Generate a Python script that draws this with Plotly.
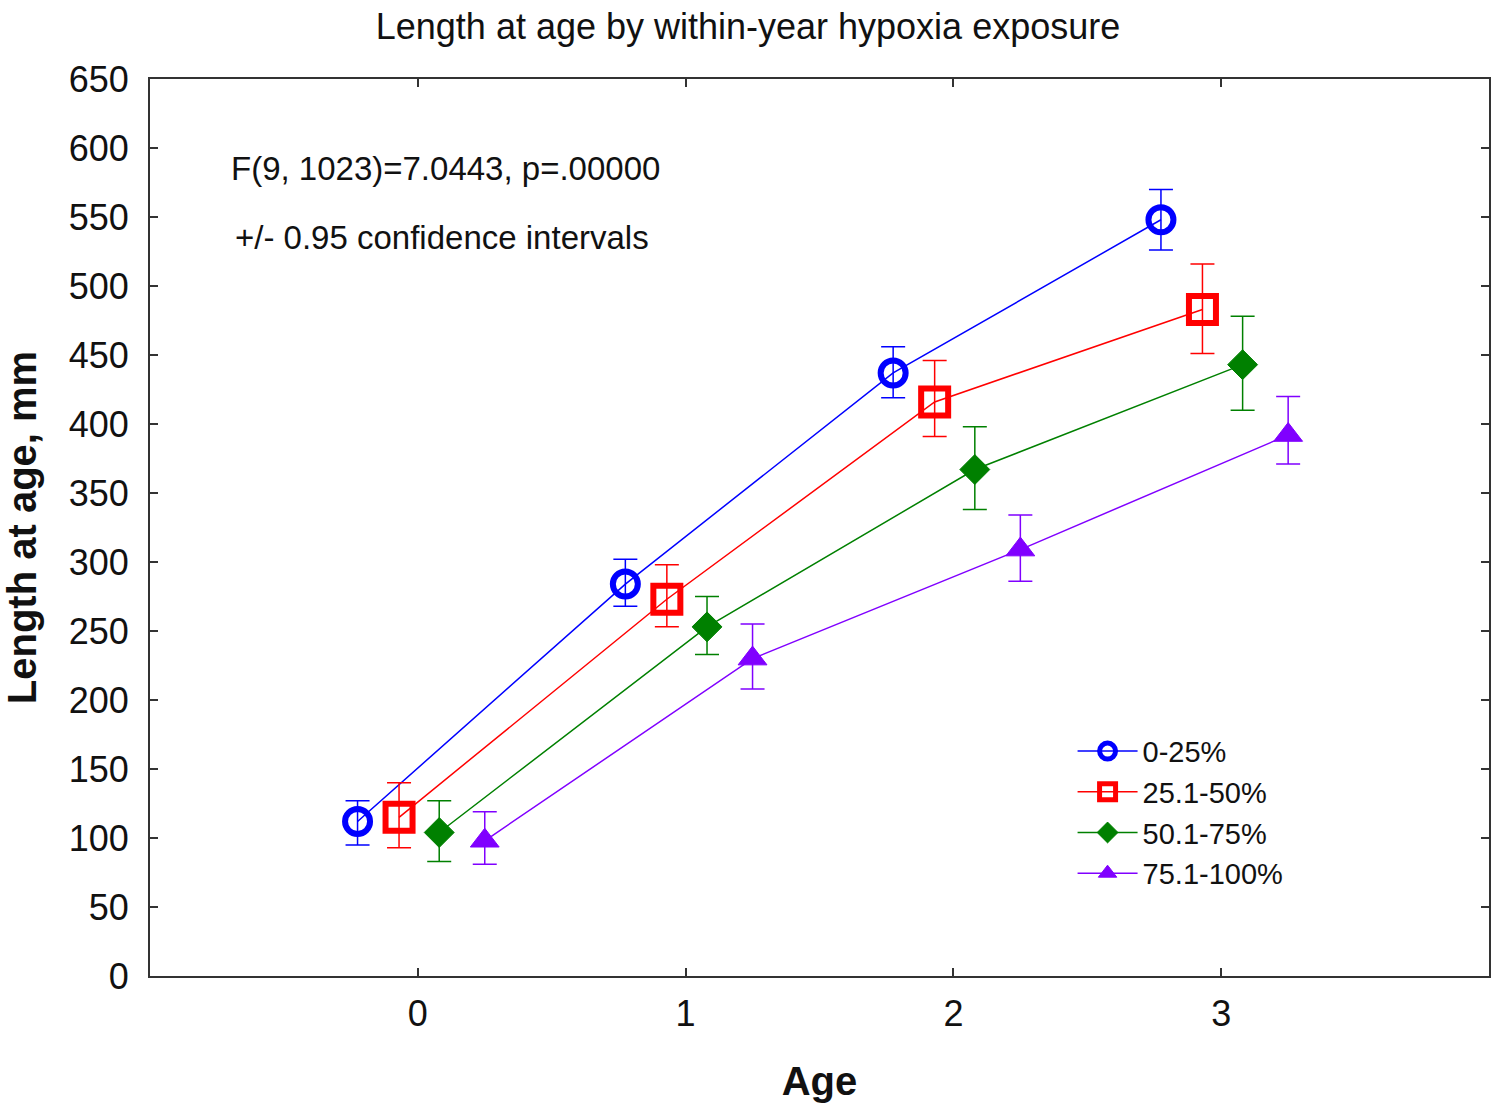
import plotly.graph_objects as go

ages = [0, 1, 2, 3]
series_names = ["0-25%", "25.1-50%", "50.1-75%", "75.1-100%"]

mean_0_25 = [112, 284, 437, 548]
upper_0_25 = [127, 302, 456, 570]
lower_0_25 = [95, 268, 419, 526]

mean_25_50 = [115, 273, 416, 483]
upper_25_50 = [140, 298, 446, 516]
lower_25_50 = [93, 253, 391, 451]

mean_50_75 = [104, 253, 367, 443]
upper_50_75 = [127, 275, 398, 478]
lower_50_75 = [83, 233, 338, 410]

mean_75_100 = [98, 230, 309, 392]
upper_75_100 = [119, 255, 334, 420]
lower_75_100 = [81, 208, 286, 371]

y_ticks = list(range(0, 651, 50))

means = [mean_0_25, mean_25_50, mean_50_75, mean_75_100]
uppers = [upper_0_25, upper_25_50, upper_50_75, upper_75_100]
lowers = [lower_0_25, lower_25_50, lower_50_75, lower_75_100]

dodge = [-0.225, -0.07, 0.08, 0.25]
colors = ["#0000ff", "#ff0000", "#008000", "#8000ff"]
symbols = ["circle-open", "square-open", "diamond", "triangle-up"]
sizes = [25, 27, 23, 25]
mlw = [6, 6, 1, 1]

FONT = "Liberation Sans, Arial, sans-serif"
TXT = "#111111"

fig = go.Figure()
for i in range(4):
    xs = [a + dodge[i] for a in ages]
    fig.add_trace(go.Scatter(
        x=xs, y=means[i], name=series_names[i], mode="lines+markers",
        line=dict(color=colors[i], width=1.5),
        marker=dict(symbol=symbols[i], size=sizes[i], color=colors[i],
                    line=dict(color=colors[i], width=mlw[i])),
        error_y=dict(type="data", symmetric=False,
                     array=[u - m for u, m in zip(uppers[i], means[i])],
                     arrayminus=[m - l for m, l in zip(means[i], lowers[i])],
                     color=colors[i], thickness=1.5, width=12),
    ))

fig.add_annotation(x=-0.705, y=585, xref="x", yref="y", xanchor="left", showarrow=False,
                   text="F(9, 1023)=7.0443, p=.00000", font=dict(size=33, color=TXT, family=FONT))
fig.add_annotation(x=-0.69, y=535, xref="x", yref="y", xanchor="left", showarrow=False,
                   text="+/- 0.95 confidence intervals", font=dict(size=33, color=TXT, family=FONT))

fig.update_layout(
    width=1496, height=1108,
    paper_bgcolor="white", plot_bgcolor="white",
    margin=dict(l=150, r=7, t=79, b=132, autoexpand=False),
    font=dict(family=FONT, color=TXT),
    title=dict(text="Length at age by within-year hypoxia exposure", x=0.5, xanchor="center",
               y=0.9765, yanchor="middle", yref="container", font=dict(size=36, family=FONT, color=TXT)),
    showlegend=True,
    legend=dict(x=0.689, y=0.279, xanchor="left", yanchor="top", bgcolor="rgba(0,0,0,0)",
                font=dict(size=29, family=FONT, color=TXT), tracegroupgap=0,
                itemsizing="trace", itemwidth=60),
    xaxis=dict(range=[-1, 4], tickvals=ages, ticktext=[str(a) for a in ages],
               showgrid=False, zeroline=False, showline=True, linecolor="#333", linewidth=2,
               mirror="ticks", ticks="inside", ticklen=8, tickwidth=2, tickcolor="#333",
               ticklabelstandoff=5,
               tickfont=dict(size=36, family=FONT, color=TXT),
               title=dict(text="<b>Age</b>", font=dict(size=40, family=FONT, color=TXT), standoff=34)),
    yaxis=dict(range=[0, 650], tickvals=y_ticks,
               showgrid=False, zeroline=False, showline=True, linecolor="#333", linewidth=2,
               mirror="ticks", ticks="inside", ticklen=8, tickwidth=2, tickcolor="#333",
               ticklabelstandoff=12,
               tickfont=dict(size=36, family=FONT, color=TXT),
               title=dict(text="<b>Length at age, mm</b>", font=dict(size=40, family=FONT, color=TXT), standoff=24)),
)

fig.write_html("out.html", config={"displayModeBar": False},
               post_script="document.body.style.margin='0';")
